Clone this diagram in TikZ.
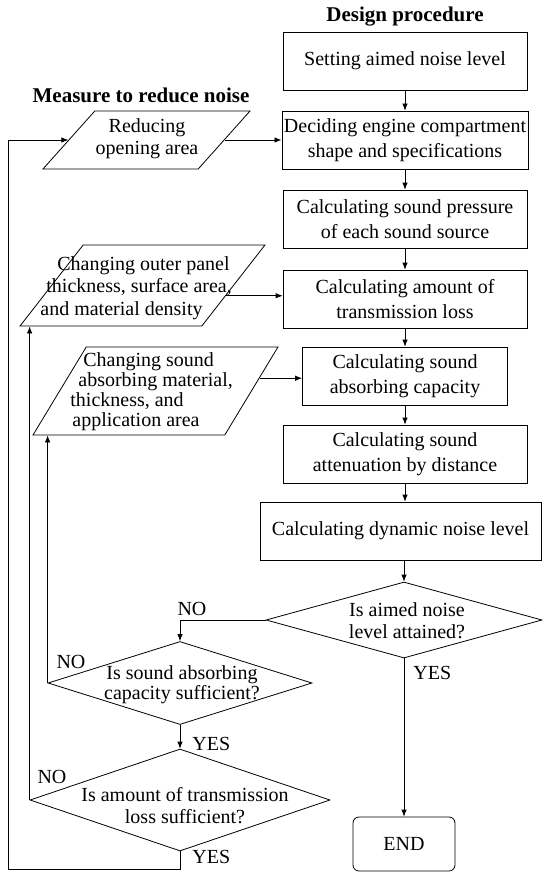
\documentclass[tikz,border=0pt]{standalone}
\usepackage{fontspec}
\setmainfont{Liberation Serif}
\usetikzlibrary{positioning, arrows.meta, shapes.geometric}

\begin{document}
\begin{tikzpicture}[x=1pt, y=1pt, node distance=79pt, line width=0.8pt,
    >={Latex[length=7pt, width=5.5pt]},
    proc/.style={draw, rectangle, minimum width=244pt, minimum height=58pt, inner sep=2pt, align=center, font=\fontsize{20}{25}\selectfont},
    measure/.style={draw, trapezium, trapezium stretches=true, inner sep=2pt},
    decision/.style={draw, diamond, inner sep=0pt},
    question/.style={align=center, inner sep=0pt, font=\fontsize{20}{22}\selectfont},
    answer/.style={inner sep=2pt, font=\fontsize{20}{24}\selectfont},
    heading/.style={font=\bfseries\fontsize{21}{25}\selectfont},
    stop/.style={draw, rectangle, rounded corners=6pt, minimum width=102pt, minimum height=54pt, font=\fontsize{20}{24}\selectfont}]
    \useasboundingbox (0,0) rectangle (542,-872);

        % Headings
        \node (design) [heading] at (405,-17) {Design procedure};
        \node (measures) [heading] at (141,-95) {Measure to reduce noise};

        % Design procedure
        \node (setlevel) [proc] at (405,-61) {Setting aimed noise level};
        \node (decide) [proc, below of=setlevel] {Deciding engine compartment\\shape and specifications};
        \node (pressure) [proc, below of=decide] {Calculating sound pressure\\of each sound source};
        \node (loss) [proc, below of=pressure, node distance=80pt] {Calculating amount of\\transmission loss};
        \node (absorb) [proc, below of=loss, node distance=77pt, minimum width=205pt] {Calculating sound\\absorbing capacity};
        \node (atten) [proc, below of=absorb, node distance=78pt] {Calculating sound\\attenuation by distance};
        \node (dynamic) [proc, minimum width=281pt] at (400.5,-531) {Calculating dynamic noise level};
        \node (attained) [decision, minimum width=276pt, minimum height=76pt] at (404,-620) {};
        \node (attainedq) [question] at (407,-621) {Is aimed noise\\level attained?};
        \node (finish) [stop] at (404,-844) {END};

        % Measures
        \node (opening) [measure, trapezium left angle=63.4, trapezium right angle=116.6, minimum width=207pt, minimum height=58pt] at (146.5,-140) {};
        \node (openingq) [question] at (147,-139) {Reducing\\opening area};
        \node (panel) [measure, trapezium left angle=62, trapezium right angle=118, minimum width=245pt, minimum height=81pt] at (142.5,-285.5) {};
        \node (panelq) [question, align=left, anchor=west, font=\fontsize{20}{22.5}\selectfont] at (40,-288) {\hspace*{17pt}Changing outer panel\\\hspace*{6pt}thickness, surface area,\\and material density};
        \node (material) [measure, trapezium left angle=69, trapezium right angle=111, minimum width=245pt, minimum height=88pt] at (155.5,-391) {};
        \node (materialq) [question, align=left, anchor=west, font=\fontsize{20}{20}\selectfont] at (70,-392) {\hspace*{13pt}Changing sound\\\hspace*{8pt}absorbing material,\\thickness, and\\\hspace*{2pt}application area};

        % Checks
        \node (capok) [decision, minimum width=264pt, minimum height=83pt] at (180,-683) {};
        \node (capokq) [question, font=\fontsize{20}{20}\selectfont] at (182,-685) {Is sound absorbing\\capacity sufficient?};
        \node (lossok) [decision, minimum width=300pt, minimum height=102pt] at (180,-800) {};
        \node (lossokq) [question] at (185,-806) {Is amount of transmission\\loss sufficient?};
        \coordinate (back) at (8,-869);

        % Arrows
        \draw[->] (setlevel) -- (decide);
        \draw[->] (decide) -- (pressure);
        \draw[->] (pressure) -- (loss);
        \draw[->] (loss) -- (absorb);
        \draw[->] (absorb) -- (atten);
        \draw[->] (atten.south) -- (atten.south |- dynamic.north);
        \draw[->] (dynamic.south -| attained.north) -- (attained.north);
        \draw[->] (attained) -- node[answer, right, pos=0.09, xshift=7pt] {YES} (finish);
        \draw[->] (attained.west) -| node[answer, above, pos=0.5, xshift=12pt, yshift=2pt] {NO} (capok.north);
        \draw[->] (capok.south) -- node[answer, right, pos=0.8, xshift=10pt] {YES} (lossok.north);
        \draw[->] (capok.west) -- node[answer, pos=0, anchor=south west, xshift=6.5pt, yshift=12pt] {NO} (capok.west |- material.south);
        \draw[->] (lossok.west) -- node[answer, pos=0, anchor=south west, xshift=5.5pt, yshift=14pt] {NO} (lossok.west |- panel.south);
        \draw[->] (lossok.south) |- node[answer, right, pos=0.17, xshift=10pt] {YES} (back) |- (opening);
        \draw[->] (opening) -- (decide);
        \draw[->] (panel.-7.5) -- (panel.-7.5 -| loss.west);
        \draw[->] (material.7.7) -- (material.7.7 -| absorb.west);
    \end{tikzpicture}
\end{document}
